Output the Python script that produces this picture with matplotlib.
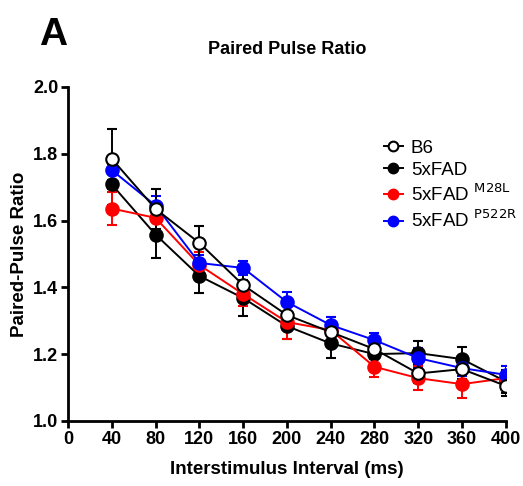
import numpy as np
import matplotlib.pyplot as plt
from matplotlib.lines import Line2D

plt.rcParams['font.family'] = ['Liberation Sans', 'DejaVu Sans']

# data
isi = [40, 80, 120, 160, 200, 240, 280, 320, 360, 400]
b6 = [1.785, 1.635, 1.533, 1.407, 1.317, 1.266, 1.215, 1.142, 1.155, 1.105]
b6_err = [0.09, 0.06, 0.05, 0.04, 0.035, 0.03, 0.03, 0.03, 0.03, 0.03]
fad = [1.708, 1.558, 1.434, 1.368, 1.284, 1.232, 1.200, 1.203, 1.185, 1.118]
fad_err = [0.06, 0.07, 0.05, 0.055, 0.04, 0.045, 0.03, 0.035, 0.035, 0.035]
m28l = [1.636, 1.608, 1.467, 1.380, 1.296, 1.272, 1.162, 1.128, 1.110, 1.128]
m28l_err = [0.05, 0.04, 0.04, 0.035, 0.05, 0.04, 0.03, 0.035, 0.04, 0.035]
p522r = [1.751, 1.645, 1.473, 1.458, 1.356, 1.287, 1.242, 1.188, 1.158, 1.138]
p522r_err = [0.03, 0.03, 0.025, 0.02, 0.03, 0.025, 0.02, 0.03, 0.025, 0.025]

fig = plt.figure(figsize=(5.23, 4.86), dpi=100)
ax = fig.add_axes([0.130, 0.134, 0.837, 0.687])

series = [
    (fad, fad_err, 'black', 'black', '5xFAD'),
    (m28l, m28l_err, 'red', 'red', '5xFAD $^{\\mathrm{M28L}}$'),
    (p522r, p522r_err, 'blue', 'blue', '5xFAD $^{\\mathrm{P522R}}$'),
    (b6, b6_err, 'black', 'white', 'B6'),
]
handles = {}
for y, e, c, fc, lab in series:
    ax.errorbar(isi, y, yerr=e, color=c, marker='o', markersize=9,
                markerfacecolor=fc, markeredgecolor=c,
                markeredgewidth=1.5, linewidth=1.4, capsize=3.5, capthick=1.4,
                elinewidth=1.4, zorder=3)
    # legend handle: marker with short line, no error bar
    handles[lab] = Line2D([], [], color=c, marker='o', markersize=7,
                          markerfacecolor=fc, markeredgecolor=c,
                          markeredgewidth=1.5, linewidth=1.4)

order = ['B6', '5xFAD', '5xFAD $^{\\mathrm{M28L}}$', '5xFAD $^{\\mathrm{P522R}}$']
ax.legend([handles[k] for k in order], order, loc='upper left',
          bbox_to_anchor=(0.70, 0.87), frameon=False, fontsize=13.5,
          handlelength=1.0, handletextpad=0.45, labelspacing=0.25,
          borderpad=0)

ax.set_xlim(0, 400)
ax.set_ylim(1.0, 2.0)
ax.set_xticks(np.arange(0, 401, 40))
ax.set_yticks(np.arange(1.0, 2.01, 0.2))
ax.set_yticklabels(['%.1f' % v for v in np.arange(1.0, 2.01, 0.2)])
for s in ['top', 'right']:
    ax.spines[s].set_visible(False)
for s in ['left', 'bottom']:
    ax.spines[s].set_linewidth(2)
ax.tick_params(width=2, length=5, labelsize=13, pad=2)
for lbl in ax.get_xticklabels() + ax.get_yticklabels():
    lbl.set_fontweight('bold')
ax.set_xlabel('Interstimulus Interval (ms)', fontsize=13.5, fontweight='bold')
ax.set_ylabel('Paired-Pulse Ratio', fontsize=13.5, fontweight='bold')
ax.xaxis.set_label_coords(0.5, -0.12)
ax.yaxis.set_label_coords(-0.092, 0.5)
ax.set_title('Paired Pulse Ratio', fontsize=13, fontweight='bold', pad=24)

fig.text(0.075, 0.965, 'A', fontsize=28, fontweight='bold', va='top', ha='left')

fig.savefig('out.png', dpi=100)
